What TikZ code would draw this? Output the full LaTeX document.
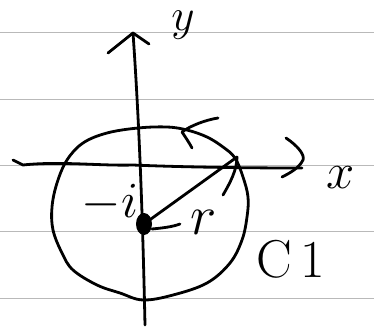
\RequirePackage{fix-cm}
\documentclass[tikz,border=0pt]{standalone}
\begin{document}
\begin{tikzpicture}[x=0.75pt,y=-0.75pt,
  ink/.style={line width=2.1pt,line cap=round,line join=round,black},
  rule/.style={line width=0.7pt,gray!55},
  lbl/.style={inner sep=0pt,font=\fontsize{38}{38}\selectfont}]
\useasboundingbox (0,0) rectangle (374,329);
% ruled paper lines
\foreach \yy in {32,99,165,231,298}
  \draw[rule] (0,\yy) -- (374,\yy);
% named coordinates
\coordinate (ybot) at (145,325);
\coordinate (ytop) at (133,33);
\coordinate (xleft) at (13,160);
\coordinate (xright) at (302,168);
\coordinate (ctr) at (144,224);
\coordinate (rend) at (237,157);
% y axis
\draw[ink] (ybot) .. controls (143,233) and (140,133) .. (ytop);
\draw[ink] (108,53) -- (ytop) -- (149,44);
% x axis
\draw[ink] (xleft) -- (23,165) .. controls (60,161) and (100,166) .. (133,165)
  .. controls (180,167) and (240,168) .. (xright);
\draw[ink] (286,138) .. controls (298,146) and (305,155) .. (303,160)
  .. controls (299,168) and (290,173) .. (282,177);
% circle C1
\draw[ink] plot[smooth cycle,tension=0.6] coordinates {
  (138,128) (167,127) (187,130) (207,137) (223,147) (235,158) (243,177)
  (248,197) (247,217) (242,240) (230,263) (207,283) (173,295) (143,300)
  (120,293) (97,285) (73,270) (62,253) (53,230) (52,207) (57,183)
  (67,160) (83,143) (107,133)};
% orientation arrowhead on circle
\draw[ink] (218,118) .. controls (205,120) and (190,126) .. (182,132)
  .. controls (186,138) and (190,144) .. (192,148);
% radius
\draw[ink] (ctr) -- (rend);
\draw[ink] (rend) .. controls (237,170) and (230,183) .. (223,195);
\draw[ink] (152,229) .. controls (162,228) and (172,227) .. (180,224);
\fill[black] (ctr) ellipse (8 and 11);
% labels
\node[lbl,font=\fontsize{34}{34}\selectfont] (ylab) at (183,25) {$y$};
\node[lbl] (xlab) at (341,178) {$x$};
\node[lbl] (ilab) at (110,203) {$-i$};
\node[lbl,font=\fontsize{42}{42}\selectfont] (rlab) at (204,222) {$r$};
\node[lbl,font=\fontsize{40}{40}\selectfont] (clab) at (291,259) {C\,1};
\end{tikzpicture}
\end{document}
